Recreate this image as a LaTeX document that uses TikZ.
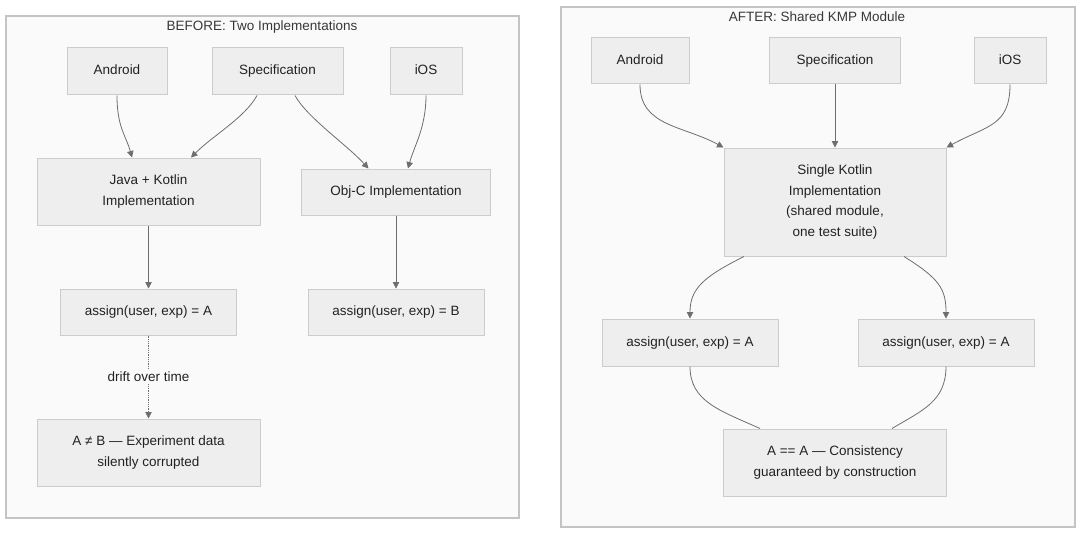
\documentclass[tikz,border=0pt]{standalone}
\usepackage{fontspec}
\setmainfont{Liberation Sans}
\usetikzlibrary{arrows.meta}
\definecolor{clfill}{HTML}{FAFAFA}
\definecolor{clline}{HTML}{C4C4C4}
\definecolor{ndfill}{HTML}{EEEEEE}
\definecolor{ndline}{HTML}{CCCCCC}
\definecolor{edge}{HTML}{6E6E6E}
\definecolor{txt}{HTML}{222222}
\tikzset{
  cluster/.style={draw=clline, fill=clfill, line width=1.3pt},
  box/.style={draw=ndline, fill=ndfill, line width=1pt, inner sep=0pt, align=center,
    font=\fontsize{13.5}{20.5}\selectfont, text=txt},
  one/.style={text height=10pt, text depth=3pt},
  ttl/.style={font=\fontsize{13.5}{16}\selectfont, text=txt!90},
  conn/.style={draw=edge, line width=0.8pt, -{Triangle[length=6.5pt,width=6.5pt]}},
  link/.style={draw=edge, line width=0.8pt},
}
\begin{document}
\begin{tikzpicture}[x=1pt,y=-1pt]
\useasboundingbox (0,0) rectangle (1080,535);
\fill[white] (0,0) rectangle (1080,535);
% clusters
\draw[cluster] (6,16) rectangle (519,518);
\node[ttl] (tL) at (262,27) {BEFORE: Two Implementations};
\draw[cluster] (561,7) rectangle (1075,527);
\node[ttl] (tR) at (817,16.5) {AFTER: Shared KMP Module};
% left nodes
\node[box, one, minimum width=100pt, minimum height=47pt] (andL) at (117,71.5) {Android};
\node[box, one, minimum width=131pt, minimum height=47pt] (specL) at (277.5,71.5) {Specification};
\node[box, one, minimum width=72pt, minimum height=47pt] (iosL) at (426,71.5) {iOS};
\node[box, minimum width=223pt, minimum height=67pt] (jk) at (148.5,191.5) {Java + Kotlin\\Implementation};
\node[box, one, minimum width=189pt, minimum height=46pt] (objc) at (396,192) {Obj-C Implementation};
\node[box, one, minimum width=176pt, minimum height=46pt] (asA) at (148.5,312) {assign(user, exp) = A};
\node[box, one, minimum width=176pt, minimum height=46pt] (asB) at (396,312) {assign(user, exp) = B};
\node[box, minimum width=223pt, minimum height=67pt] (corr) at (148.5,452.5) {A ≠ B — Experiment data\\silently corrupted};
% right nodes
\node[box, one, minimum width=98pt, minimum height=46pt] (andR) at (640,61) {Android};
\node[box, one, minimum width=131pt, minimum height=46pt] (specR) at (835,61) {Specification};
\node[box, one, minimum width=72pt, minimum height=46pt] (iosR) at (1010,61) {iOS};
\node[box, minimum width=222pt, minimum height=108pt] (kot) at (835,202) {Single Kotlin\\Implementation\\(shared module,\\one test suite)};
\node[box, one, minimum width=176pt, minimum height=47pt] (as1) at (690,342.5) {assign(user, exp) = A};
\node[box, one, minimum width=176pt, minimum height=47pt] (as2) at (946,342.5) {assign(user, exp) = A};
\node[box, minimum width=223pt, minimum height=67pt] (cons) at (835,462.5) {A == A — Consistency\\guaranteed by construction};
% left edges
\draw[conn] (andL.south) .. controls +(0,32) and +(-6,-22) .. ([xshift=-16.5pt]jk.north);
\draw[conn] ([xshift=-20.5pt]specL.south) .. controls +(-12,22) and +(22,-22) .. ([xshift=42.5pt]jk.north);
\draw[conn] ([xshift=17.5pt]specL.south) .. controls +(12,22) and +(-22,-24) .. ([xshift=-27.5pt]objc.north);
\draw[conn] (iosL.south) .. controls +(0,32) and +(6,-22) .. ([xshift=12pt]objc.north);
\draw[conn] (jk.south) -- (asA.north);
\draw[conn] (objc.south) -- (asB.north);
\draw[conn, densely dotted] (asA.south) -- (corr.north)
  node[midway, fill=clfill, inner sep=2pt, font=\fontsize{13.5}{16}\selectfont, text=txt] (drift) {drift over time};
% right edges
\draw[conn] (andR.south) .. controls +(0,42) and +(-40,-22) .. (kot.north west);
\draw[conn] (specR.south) -- (kot.north);
\draw[conn] (iosR.south) .. controls +(0,42) and +(40,-22) .. (kot.north east);
\draw[conn] ([xshift=-91pt]kot.south) .. controls +(-40,20) and +(0,-30) .. (as1.north);
\draw[conn] ([xshift=69pt]kot.south) .. controls +(35,22) and +(0,-30) .. (as2.north);
\draw[link] (as1.south) .. controls +(0,35) and +(-40,-18) .. ([xshift=-75pt]cons.north);
\draw[link] (as2.south) .. controls +(0,35) and +(30,-18) .. ([xshift=57pt]cons.north);
\end{tikzpicture}
\end{document}
